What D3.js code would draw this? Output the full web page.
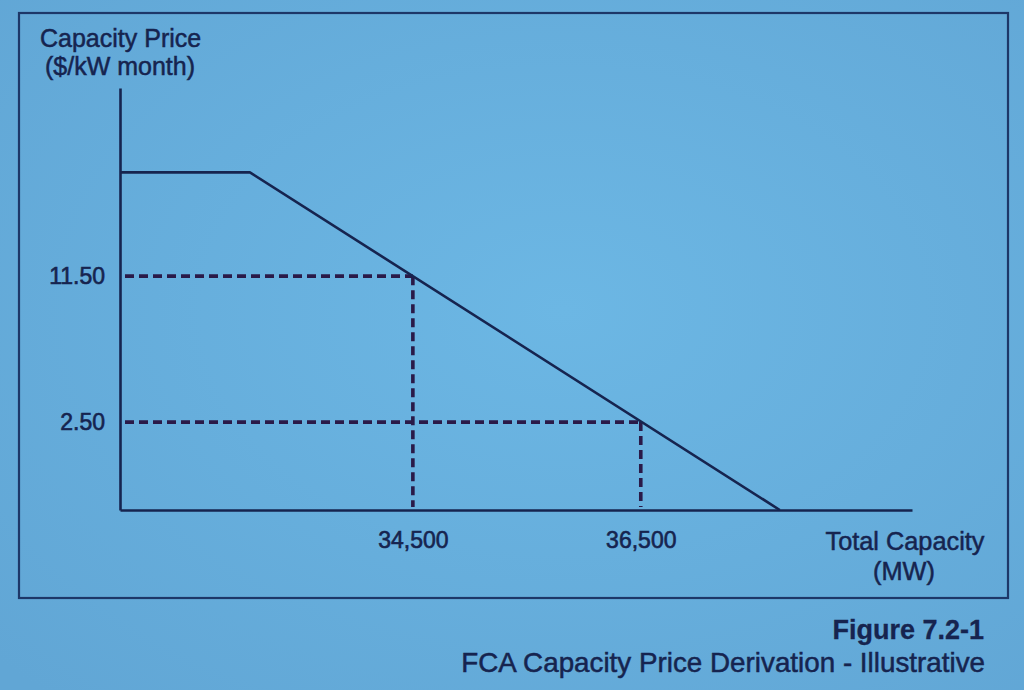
<!DOCTYPE html>
<html>
<head>
<meta charset="utf-8">
<script src="https://cdn.jsdelivr.net/npm/d3@7"></script>
<style>
  html, body { margin: 0; padding: 0; background: #64abda; }
  svg { display: block; font-family: "Liberation Sans", Arial, sans-serif; }
</style>
</head>
<body>
<svg id="chart" width="1024" height="690"></svg>
<script>
/* FCA capacity price derivation - illustrative demand curve with two reference points. */

// axis extents (MW and $/kW-month) - the figure is illustrative,
// so the axes do not start at zero
const X_DOMAIN = [31930, 38880];
const Y_DOMAIN = [-2.92, 23.1];

// the demand curve: flat price cap, then a straight fall to the x axis
const CURVE_MW    = [31930, 33070, 37720];
const CURVE_PRICE = [17.9, 17.9, -2.92];

// reference points marked with dashed guides
const REF_MW    = [34500, 36500];
const REF_PRICE = [11.50, 2.50];

const INK = "#16244f", DASH = "#2a1a48";

const svg = d3.select("#chart");

// soft vignette of the photographed screen
const grad = svg.append("defs").append("radialGradient")
    .attr("id", "bg").attr("cx", "55%").attr("cy", "45%").attr("r", "75%");
grad.append("stop").attr("offset", "0%").attr("stop-color", "#6cb7e4");
grad.append("stop").attr("offset", "100%").attr("stop-color", "#61a6d5");
svg.append("rect").attr("width", 1024).attr("height", 690).attr("fill", "url(#bg)");

// frame around the chart
svg.append("rect")
    .attr("x", 19).attr("y", 13).attr("width", 989).attr("height", 585)
    .attr("fill", "none").attr("stroke", "#1d3768").attr("stroke-width", 2.2);

const x = d3.scaleLinear().domain(X_DOMAIN).range([120, 912]);
const y = d3.scaleLinear().domain(Y_DOMAIN).range([510, 88]);

// dashed guides from each axis to the curve
const refs = REF_MW.map((mw, i) => ({ mw, price: REF_PRICE[i] }));
const guides = svg.append("g")
    .attr("stroke", DASH).attr("stroke-width", 3.6)
    .attr("stroke-dasharray", "9,5").attr("fill", "none");
guides.selectAll("line.h").data(refs).join("line").attr("class", "h")
    .attr("x1", x(X_DOMAIN[0]) + 5).attr("x2", d => x(d.mw))
    .attr("y1", d => y(d.price)).attr("y2", d => y(d.price));
guides.selectAll("line.v").data(refs).join("line").attr("class", "v")
    .attr("x1", d => x(d.mw)).attr("x2", d => x(d.mw))
    .attr("y1", d => y(d.price)).attr("y2", y(Y_DOMAIN[0]) - 3);

// axes: only the two labelled values get a tick label
const xAxis = svg.append("g").attr("transform", `translate(0,${y(Y_DOMAIN[0])})`)
    .call(d3.axisBottom(x).tickValues(REF_MW).tickSize(0).tickPadding(22)
      .tickFormat(d3.format(",")));
const yAxis = svg.append("g").attr("transform", `translate(${x(X_DOMAIN[0])},0)`)
    .call(d3.axisLeft(y).tickValues(REF_PRICE).tickSize(0).tickPadding(15)
      .tickFormat(d3.format(".2f")));
[xAxis, yAxis].forEach(g => {
  g.attr("font-size", null).attr("font-family", null);
  g.select(".domain").attr("stroke", INK).attr("stroke-width", 2.6);
  g.selectAll("text").attr("fill", INK).style("font-size", "23px")
    .attr("stroke", INK).attr("stroke-width", 0.6);
});

// the demand curve
const curve = CURVE_MW.map((mw, i) => ({ mw, price: CURVE_PRICE[i] }));
svg.append("path").datum(curve)
    .attr("fill", "none").attr("stroke", INK).attr("stroke-width", 2.6)
    .attr("stroke-linejoin", "round")
    .attr("d", d3.line().x(d => x(d.mw)).y(d => y(d.price)));

// axis titles and caption
const label = (tx, ty, str, anchor, size, weight) => svg.append("text")
    .attr("x", tx).attr("y", ty).attr("text-anchor", anchor)
    .attr("font-size", size).attr("font-weight", weight || "normal")
    .attr("fill", INK).attr("stroke", INK).attr("stroke-width", weight ? 0.3 : 0.5)
    .text(str);

label(40, 47, "Capacity Price", "start", 25);
label(45, 75, "($/kW month)", "start", 25);
label(905, 550, "Total Capacity", "middle", 25.3);
label(904, 580, "(MW)", "middle", 25.3);

label(984, 639, "Figure 7.2-1", "end", 27, "bold");
label(985, 672, "FCA Capacity Price Derivation - Illustrative", "end", 27.8);
</script>
</body>
</html>
